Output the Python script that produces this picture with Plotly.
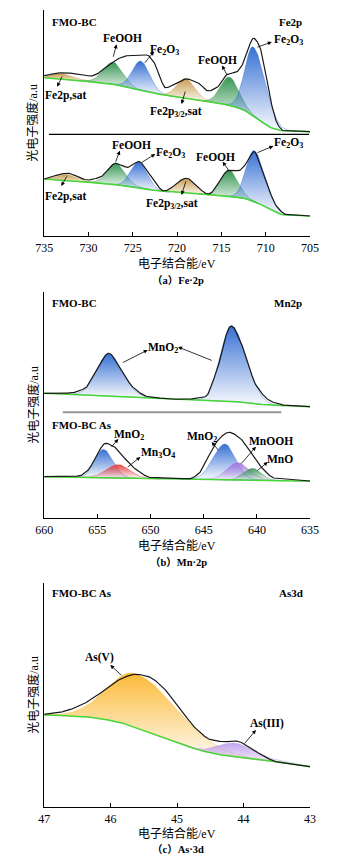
import numpy as np
import plotly.graph_objects as go

W, H = 358, 862

# ================= DATA =================
# ---- (a) Fe 2p ----
fe_ticks = [735, 730, 725, 720, 715, 710, 705]
fe_kinds = ["sat", "FeOOH", "Fe2O3", "sat", "FeOOH", "Fe2O3"]
# upper spectrum (FMO-BC)
fe1_bg_e = [735, 727.2, 724.3, 721.5, 716.5, 714.3, 712.5, 710.75, 709.3, 707.9, 705]
fe1_bg_y = [158.3, 151.7, 146, 141, 134.3, 131, 126, 116, 108, 105, 104.3]
fe1_env_e = [735, 732.89, 731.11, 729.68, 728.61, 727.18, 726.11, 725.04, 723.43, 722.54,
             721.82, 721.29, 720.04, 718.96, 717.54, 716.46, 715.39, 714.32, 713.25, 712.54,
             711.36, 710.75, 710.04, 709.32, 708.61, 707.9, 705]
fe1_env_y = [160.3, 163.3, 162, 160, 164.3, 174.3, 179.3, 181, 181, 172.7,
             156, 148.3, 152.7, 157, 152.7, 145, 149.3, 161.7, 164.3, 172.7,
             197.7, 191, 164.3, 131, 111, 105, 104.3]
fe1_center = [732.9, 727.2, 724.1, 719.0, 714.1, 711.4]
fe1_height = [5.7, 22, 29.3, 20, 28.3, 69]
fe1_s_hi = [1.1, 1.1, 0.95, 1.0, 1.0, 0.95]
fe1_s_lo = [1.2, 1.1, 1.0, 1.0, 1.05, 1.35]
# lower spectrum
fe2_bg_e = [735, 728.6, 725.0, 721.5, 716.1, 712.5, 710.0, 707.9, 705]
fe2_bg_y = [57, 52.7, 49.3, 44.3, 41, 37.7, 29.3, 21, 20]
fe2_env_e = [735, 732.36, 730.04, 728.61, 726.89, 725.57, 724.32, 722.9, 721.46, 718.96,
             716.46, 714.07, 713.07, 712.18, 711.29, 710.75, 710.04, 708.61, 707.54, 705]
fe2_env_y = [57, 62.7, 56, 59.3, 72.7, 68.7, 74.3, 59.3, 45, 57.7,
             42, 66, 65.3, 72.7, 84.3, 74.3, 56, 27.7, 21, 20]
fe2_center = [732.4, 726.9, 724.3, 719.0, 714.1, 711.3]
fe2_height = [6, 21.7, 25.6, 15, 26, 51]
fe2_s_hi = [1.1, 1.0, 0.9, 1.0, 0.95, 0.9]
fe2_s_lo = [1.1, 1.0, 0.95, 1.0, 0.95, 1.2]

# ---- (b) Mn 2p ----
mn_ticks = [660, 655, 650, 645, 640, 635]
mn1_kinds = ["MnO2", "MnO2"]
mn1_bg_e = [660, 654.67, 649.31, 645.74, 641.28, 638.3, 635]
mn1_bg_y = [124.7, 122.3, 119.7, 118, 115.7, 112.3, 111.3]
mn1_env_e = [660, 657.65, 656.16, 654.97, 653.93, 652.89, 651.7, 650.21, 647.23, 644.85,
             643.81, 642.41, 641.28, 640.09, 638.6, 636.81, 635]
mn1_env_y = [124.7, 125, 129.7, 149.7, 164.7, 151.3, 131.3, 121.3, 118.7, 121.3,
             146.3, 192, 169.7, 133, 116.3, 112, 111.3]
mn1_center = [653.93, 642.41]
mn1_height = [42.2, 75.8]
mn1_s_hi = [1.12, 1.0]
mn1_s_lo = [1.28, 1.37]

mn2_kinds = ["MnO2", "Mn3O4", "MnO2", "MnOOH", "MnO"]
mn2_bg_e = [660, 650.21, 645.74, 639.79, 635]
mn2_bg_y = [41.3, 39.3, 38.7, 37.7, 36.7]
mn2_env_e = [660, 656.76, 655.86, 654.97, 654.23, 653.33, 652.29, 651.1, 649.91, 646.34,
             645.45, 644.4, 643.51, 642.62, 641.58, 640.39, 639.35, 638.3, 635]
mn2_env_y = [41.3, 42, 48, 64.7, 74.7, 70.7, 58, 46.3, 40.3, 39.3,
             44.7, 64.7, 79.7, 85.7, 79.7, 63, 48, 39.7, 37]
mn2_center = [654.43, 653.04, 643.0, 641.81, 640.39]
mn2_height = [28.5, 13.6, 35.7, 17.3, 11.9]
mn2_s_hi = [0.8, 1.1, 1.1, 1.0, 0.8]
mn2_s_lo = [0.9, 1.1, 1.0, 1.1, 0.8]

# ---- (c) As 3d ----
as_ticks = [47, 46, 45, 44, 43]
as_kinds = ["AsV", "AsIII"]
as_bg_e = [47, 46.39, 45.91, 45.43, 44.96, 44.62, 44.24, 43.77, 43.29, 43]
as_bg_y = [92, 90.3, 85.3, 75.3, 63.7, 56, 51, 47, 43.7, 40.3]
as_env_e = [47, 46.72, 46.39, 46.05, 45.81, 45.62, 45.43, 45.2, 44.96, 44.72,
            44.48, 44.29, 44.12, 43.96, 43.77, 43.48, 43]
as_env_y = [92.7, 95.3, 103.7, 118.7, 129.3, 132.7, 130.3, 118.7, 98.7, 78.7,
            67, 65.3, 66, 62, 53.7, 44.7, 40.3]
as_center = [45.62, 44.12]
as_height = [53.4, 14]
as_s_hi = [0.42, 0.25]
as_s_lo = [0.63, 0.3]

# ================= STYLE =================
PEAK_RGB = {
    "sat": (198, 150, 70), "FeOOH": (45, 145, 75), "Fe2O3": (45, 105, 210),
    "MnO2": (45, 105, 210), "Mn3O4": (228, 60, 60), "MnOOH": (165, 115, 222),
    "MnO": (55, 150, 85), "AsV": (250, 182, 45), "AsIII": (188, 155, 236),
}
SERIF = "Liberation Serif"
CJK = "Liberation Serif, Noto Sans CJK SC"
PLOT_L, PLOT_R = 37, 317
PANELS = {1: (10, 236), 2: (292, 518), 3: (583, 807)}   # top/bottom px of each plot


def pchip(xk, yk, x):
    xk = np.asarray(xk, float); yk = np.asarray(yk, float)
    o = np.argsort(xk); xk, yk = xk[o], yk[o]
    h = np.diff(xk); d = np.diff(yk) / h
    n = len(xk); m = np.zeros(n)
    m[0], m[-1] = d[0], d[-1]
    for i in range(1, n - 1):
        if d[i - 1] * d[i] > 0:
            w1 = 2 * h[i] + h[i - 1]; w2 = h[i] + 2 * h[i - 1]
            m[i] = (w1 + w2) / (w1 / d[i - 1] + w2 / d[i])
    x = np.asarray(x, float)
    i = np.clip(np.searchsorted(xk, x) - 1, 0, n - 2)
    t = (x - xk[i]) / h[i]
    t2, t3 = t * t, t * t * t
    return ((2 * t3 - 3 * t2 + 1) * yk[i] + (t3 - 2 * t2 + t) * h[i] * m[i]
            + (-2 * t3 + 3 * t2) * yk[i + 1] + (t3 - t2) * h[i] * m[i + 1])


def peak(x, c, a, s_hi, s_lo):
    s = np.where(x >= c, s_hi, s_lo)
    return a * np.exp(-0.5 * ((x - c) / s) ** 2)


fig = go.Figure()


def axes_ids(k):
    return ("x", "y") if k == 1 else (f"x{k}", f"y{k}")


def add_spectrum(k, erange, bg_e, bg_y, env_e, env_y, centers, heights, s_hi, s_lo, kinds):
    xa, ya = axes_ids(k)
    lo, hi = min(erange), max(erange)
    for c, a, sh, sl, kind in zip(centers, heights, s_hi, s_lo, kinds):
        x = np.linspace(max(lo, c - 3.6 * sl), min(hi, c + 3.6 * sh), 260)
        b = pchip(bg_e, bg_y, x)
        top = b + peak(x, c, a, sh, sl)
        r, g, bb = PEAK_RGB[kind]
        fig.add_trace(go.Scatter(
            x=np.r_[x, x[::-1]], y=np.r_[top, b[::-1]], mode="lines", fill="toself",
            line=dict(color=f"rgba({r},{g},{bb},0.55)", width=0.7),
            fillgradient=dict(type="vertical", colorscale=[
                [0, f"rgba({r},{g},{bb},0.02)"], [1, f"rgba({r},{g},{bb},0.95)"]]),
            xaxis=xa, yaxis=ya, hoverinfo="skip", showlegend=False))
    xs = np.linspace(lo, hi, 500)
    fig.add_trace(go.Scatter(x=xs, y=pchip(bg_e, bg_y, xs), mode="lines",
                             line=dict(color="rgb(70,215,55)", width=1.5),
                             xaxis=xa, yaxis=ya, hoverinfo="skip", showlegend=False))
    fig.add_trace(go.Scatter(x=xs, y=pchip(env_e, env_y, xs), mode="lines",
                             line=dict(color="rgb(25,25,25)", width=1.2),
                             xaxis=xa, yaxis=ya, hoverinfo="skip", showlegend=False))


add_spectrum(1, (735, 705), fe1_bg_e, fe1_bg_y, fe1_env_e, fe1_env_y,
             fe1_center, fe1_height, fe1_s_hi, fe1_s_lo, fe_kinds)
add_spectrum(1, (735, 705), fe2_bg_e, fe2_bg_y, fe2_env_e, fe2_env_y,
             fe2_center, fe2_height, fe2_s_hi, fe2_s_lo, fe_kinds)
add_spectrum(2, (660, 635), mn1_bg_e, mn1_bg_y, mn1_env_e, mn1_env_y,
             mn1_center, mn1_height, mn1_s_hi, mn1_s_lo, mn1_kinds)
add_spectrum(2, (660, 635), mn2_bg_e, mn2_bg_y, mn2_env_e, mn2_env_y,
             mn2_center, mn2_height, mn2_s_hi, mn2_s_lo, mn2_kinds)
add_spectrum(3, (47, 43), as_bg_e, as_bg_y, as_env_e, as_env_y,
             as_center, as_height, as_s_hi, as_s_lo, as_kinds)

# ================= AXES =================
ranges = {1: ([735, 705], fe_ticks), 2: ([660, 635], mn_ticks), 3: ([47, 43], as_ticks)}
layout_axes = {}
for k, (top, bot) in PANELS.items():
    xr, ticks = ranges[k]
    xa, ya = axes_ids(k)
    xname = "xaxis" if k == 1 else f"xaxis{k}"
    yname = "yaxis" if k == 1 else f"yaxis{k}"
    layout_axes[xname] = dict(
        domain=[PLOT_L / W, PLOT_R / W], range=xr, anchor=ya, tickvals=ticks,
        ticks="inside", ticklen=4, tickwidth=1, tickcolor="black",
        showline=True, linecolor="black", linewidth=1, showgrid=False, zeroline=False,
        tickfont=dict(family=SERIF, size=12, color="black"), ticklabelstandoff=1)
    layout_axes[yname] = dict(
        domain=[1 - bot / H, 1 - top / H], range=[0, bot - top], anchor=xa,
        tickvals=[bot - top - 0.5], ticks="inside", ticklen=5, tickwidth=1,
        tickcolor="black", showticklabels=False, showline=True, linecolor="black",
        linewidth=1, showgrid=False, zeroline=False)


def px2data(k, px, py):
    top, bot = PANELS[k]
    xr = ranges[k][0]
    e = xr[0] + (px - PLOT_L) / (PLOT_R - PLOT_L) * (xr[1] - xr[0])
    return e, bot - py


annots = []


def label(text, px, py, anchor="center", size=11.5):
    annots.append(dict(text=text, x=px / W, y=1 - py / H, xref="paper", yref="paper",
                       xanchor=anchor, yanchor="middle", showarrow=False,
                       font=dict(family=SERIF, size=size, color="black", weight="bold")))


def arrow(k, tail, head):
    xa, ya = axes_ids(k)
    hx, hy = px2data(k, *head)
    tx, ty = px2data(k, *tail)
    annots.append(dict(text="", x=hx, y=hy, ax=tx, ay=ty, xref=xa, yref=ya,
                       axref=xa, ayref=ya, showarrow=True, arrowhead=2, arrowsize=1,
                       arrowwidth=0.8, arrowcolor="black", standoff=0, startstandoff=0))


# panel (a)
label("FMO-BC", 43, 22.3, "left", 11)
label("Fe2p", 311, 22.3, "right", 11)
fe_lab_top = [("FeOOH", 119.3, 37.7, (109.3, 58.3), (113.3, 44.3)),
              ("Fe<sub>2</sub>O<sub>3</sub>", 164, 49.5, (141.7, 64.3), (152.7, 51.5)),
              ("FeOOH", 219.3, 60, (230, 75.7), (224.3, 65.5)),
              ("Fe<sub>2</sub>O<sub>3</sub>", 294, 40, (260, 47.7), (276.7, 42)),
              ("Fe2p,sat", 60, 95.7, (56.7, 75), (50.7, 86.7)),
              ("Fe2p<sub>3/2</sub>,sat", 176, 111.7, (186, 90), (181.7, 104)),
              ("FeOOH", 129.3, 145, (111.7, 163.3), (116.7, 150.7)),
              ("Fe<sub>2</sub>O<sub>3</sub>", 170, 153.5, (138.3, 163.3), (154, 154)),
              ("FeOOH", 217.7, 156.7, (232.3, 171.7), (225, 161.7)),
              ("Fe<sub>2</sub>O<sub>3</sub>", 294, 143.3, (260, 153.3), (278.3, 146)),
              ("Fe2p,sat", 60, 196, (61.7, 175), (55, 186)),
              ("Fe2p<sub>3/2</sub>,sat", 172, 204, (186.7, 180), (181.7, 195))]
for t, x, y, tail, head in fe_lab_top:
    label(t, x, y)
    arrow(1, tail, head)

# panel (b)
label("FMO-BC", 43, 303.3, "left", 11)
label("Mn2p", 310.7, 303.3, "right", 11)
label("MnO<sub>2</sub>", 161.7, 347.7)
arrow(2, (118.3, 363.3), (146, 350))
arrow(2, (215, 361), (178, 347))
label("FMO-BC As", 43, 425, "left", 11)
mn_lab = [("MnO<sub>2</sub>", 126.7, 435, (106.7, 448.3), (115, 439)),
          ("Mn<sub>3</sub>O<sub>4</sub>", 157, 453.3, (123.3, 468.3), (138.3, 457)),
          ("MnO<sub>2</sub>", 202.7, 437.3, (221.7, 451.7), (213.5, 442)),
          ("MnOOH", 276, 441, (243.3, 465), (260, 446.7)),
          ("MnO", 285, 459, (260, 471.7), (272.5, 462))]
for t, x, y, tail, head in mn_lab:
    label(t, x, y)
    arrow(2, tail, head)

# panel (c)
label("FMO-BC As", 43, 593.3, "left", 11)
label("As3d", 311.7, 593.3, "right", 11)
label("As(V)", 95, 657.7)
arrow(3, (120, 676.7), (106.7, 665))
label("As(III)", 271.7, 723.3)
arrow(3, (246.7, 745), (260, 730))

# axis titles and captions
for (tpy, cpy, cap) in [(263.3, 279.5, "（a）Fe·2p"), (545.3, 561.5, "（b）Mn·2p"),
                        (833.3, 848.5, "（c）As·3d")]:
    annots.append(dict(text="电子结合能/eV", x=177 / W, y=1 - tpy / H, xref="paper", yref="paper",
                       showarrow=False, xanchor="center", yanchor="middle",
                       font=dict(family=CJK, size=12, color="black")))
    annots.append(dict(text=cap, x=178 / W, y=1 - cpy / H, xref="paper", yref="paper",
                       showarrow=False, xanchor="center", yanchor="middle",
                       font=dict(family=CJK, size=10.5, color="black", weight="bold")))
for k, (top, bot) in PANELS.items():
    annots.append(dict(text="光电子强度/a.u", x=25 / W, y=1 - (top + bot) / 2 / H,
                       xref="paper", yref="paper", showarrow=False, textangle=-90,
                       xanchor="center", yanchor="middle",
                       font=dict(family=CJK, size=12, color="black")))

shapes = [
    dict(type="line", xref="paper", yref="paper", x0=42 / W, x1=316 / W,
         y0=1 - 134.3 / H, y1=1 - 134.3 / H, line=dict(color="black", width=1.2)),
    dict(type="line", xref="paper", yref="paper", x0=56.7 / W, x1=286.7 / W,
         y0=1 - 412.3 / H, y1=1 - 412.3 / H, line=dict(color="rgb(150,150,150)", width=2)),
]

fig.update_layout(width=W, height=H, margin=dict(l=0, r=0, t=0, b=0),
                  paper_bgcolor="white", plot_bgcolor="white", showlegend=False,
                  annotations=annots, shapes=shapes, **layout_axes)
fig.write_html("out.html", config={"displayModeBar": False},
               post_script="document.body.style.margin='0';document.body.style.overflow='hidden';")
